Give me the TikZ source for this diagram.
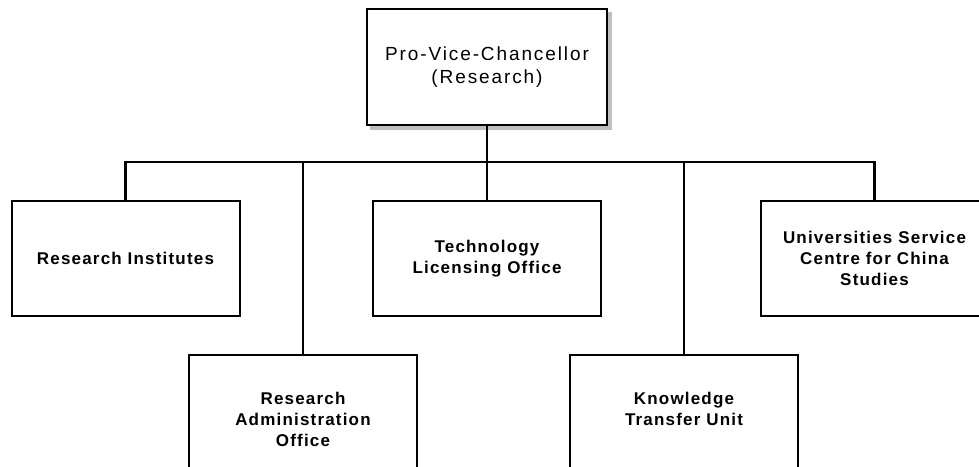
\documentclass[tikz,border=0pt]{standalone}
\usepackage{fontspec}
\setmainfont{Liberation Sans}
\newfontfamily\lowfont[LetterSpace=7]{Liberation Sans}
\newfontfamily\topfont[LetterSpace=10]{Liberation Sans}
\begin{document}
\begin{tikzpicture}[x=1pt,y=-1pt,
  box/.style={draw=black, line width=2pt, fill=white, rectangle, inner sep=0pt},
  lowbox/.style={box, minimum width=228pt, minimum height=115pt},
  lowtxt/.style={align=center, font=\lowfont\fontsize{17}{21}\selectfont\bfseries, inner sep=0pt},
  conn/.style={line width=2.6pt, line cap=rect}]
\useasboundingbox (0,0) rectangle (979,466);
\clip (0,0) rectangle (979,466);
% top box with shadow
\fill[gray!50] (370,12) rectangle (612,130);
\node[box, minimum width=240pt, minimum height=116pt, align=center,
  font=\topfont\fontsize{19}{23}\selectfont] (pvc) at (487,67) {Pro-Vice-Chancellor\\(Research)};
% upper row
\node[lowbox, lowtxt, draw, line width=2pt] (ri) at (125.5,258.5) {Research Institutes};
\node[lowbox, lowtxt, draw, line width=2pt] (tlo) at (487,258.5) {Technology\\Licensing Office};
\node[lowbox, lowtxt, draw, line width=2pt] (usc) at (874.5,258.5) {Universities Service\\Centre for China\\Studies};
% lower row
\node[lowbox, minimum height=120pt, anchor=north] (rao) at (303,354) {};
\node[lowbox, minimum height=120pt, anchor=north] (ktu) at (684,354) {};
\node[lowtxt, anchor=north] (raot) at (303,392) {Research\\Administration\\Office};
\node[lowtxt, anchor=north] (ktut) at (684,392) {Knowledge\\Transfer Unit};
% connectors
\coordinate (bus) at (487,162);
\draw[conn] (ri.north |- bus) -- (usc.north |- bus);
\draw[conn] (pvc.south) -- (pvc.south |- bus);
\draw[conn] (ri.north) -- (ri.north |- bus);
\draw[conn] (usc.north) -- (usc.north |- bus);
\draw[conn] (tlo.north) -- (tlo.north |- bus);
\draw[conn] (rao.north) -- (rao.north |- bus);
\draw[conn] (ktu.north) -- (ktu.north |- bus);
\end{tikzpicture}
\end{document}
